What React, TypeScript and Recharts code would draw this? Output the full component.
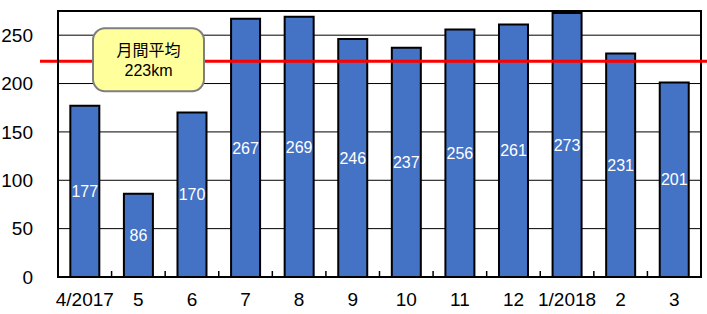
import React from 'react';
import { BarChart, Bar, XAxis, YAxis, CartesianGrid, ReferenceLine, ReferenceArea, LabelList } from 'recharts';

const months = ['4/2017', '5', '6', '7', '8', '9', '10', '11', '12', '1/2018', '2', '3'];
const distance = [177, 86, 170, 267, 269, 246, 237, 256, 261, 273, 231, 201];
const yTicks = [0, 50, 100, 150, 200, 250];
const monthlyAverage = 223;
const averageLines = ['月間平均', '223km'];

const data = months.map((m, i) => ({ month: m, km: distance[i] }));

const FONT = '"Liberation Sans", Arial, "Noto Sans CJK JP", sans-serif';

const MonthTick = (props: any) => {
  const { x, y, payload, width, visibleTicksCount } = props;
  const step = width / visibleTicksCount;
  return (
    <g>
      <line x1={x + step / 2} y1={y} x2={x + step / 2} y2={y - 6} stroke="#000" strokeWidth={1.5} />
      <text x={x} y={y + 29} textAnchor="middle" fontSize={19} fill="#000" fontFamily={FONT}>
        {payload.value}
      </text>
    </g>
  );
};

// red average line plus the yellow callout box
const AverageLine = (props: any) => {
  const { x1, x2, y1 } = props;
  const y = y1;
  const bx = x1 + 35;
  return (
    <g>
      <line x1={x1 - 18} y1={y} x2={x2 + 6} y2={y} stroke="#ff0000" strokeWidth={3} />
      <rect x={bx} y={y - 33} width={111} height={63} rx={12} ry={12} fill="#ffff9c" stroke="#7f7f7f" strokeWidth={2} />
      <text x={bx + 55.5} y={y - 5} textAnchor="middle" fontSize={16} fill="#000" fontFamily={FONT}>
        {averageLines[0]}
      </text>
      <text x={bx + 55.5} y={y + 15} textAnchor="middle" fontSize={16} fill="#000" fontFamily={FONT}>
        {averageLines[1]}
      </text>
    </g>
  );
};

export default function App() {
  return (
    <div style={{ position: 'absolute', left: 0, top: 0, background: '#fff' }}>
      <BarChart
        width={707}
        height={314}
        data={data}
        margin={{ top: 11, right: 6, left: 0, bottom: 0 }}
        barCategoryGap="23%"
      >
        <CartesianGrid vertical={false} stroke="#000" strokeWidth={1} />
        <XAxis
          dataKey="month"
          height={37}
          tickSize={0}
          tickMargin={0}
          tickLine={false}
          axisLine={{ stroke: '#000', strokeWidth: 2 }}
          interval={0}
          tick={<MonthTick />}
        />
        <YAxis
          width={58}
          domain={[0, 275]}
          ticks={yTicks}
          tickSize={0}
          tickMargin={25}
          tickLine={false}
          axisLine={{ stroke: '#000', strokeWidth: 2 }}
          tick={{ fill: '#000', fontSize: 19, fontFamily: FONT }}
        />
        <ReferenceArea y1={0} y2={275} fill="none" stroke="#000" strokeWidth={2} ifOverflow="extendDomain" />
        <Bar dataKey="km" fill="#4472c4" stroke="#000" strokeWidth={2} isAnimationActive={false}>
          <LabelList dataKey="km" position="center" fill="#fff" fontSize={16} fontFamily={FONT} />
        </Bar>
        <ReferenceLine y={monthlyAverage} shape={<AverageLine />} />
      </BarChart>
    </div>
  );
}
